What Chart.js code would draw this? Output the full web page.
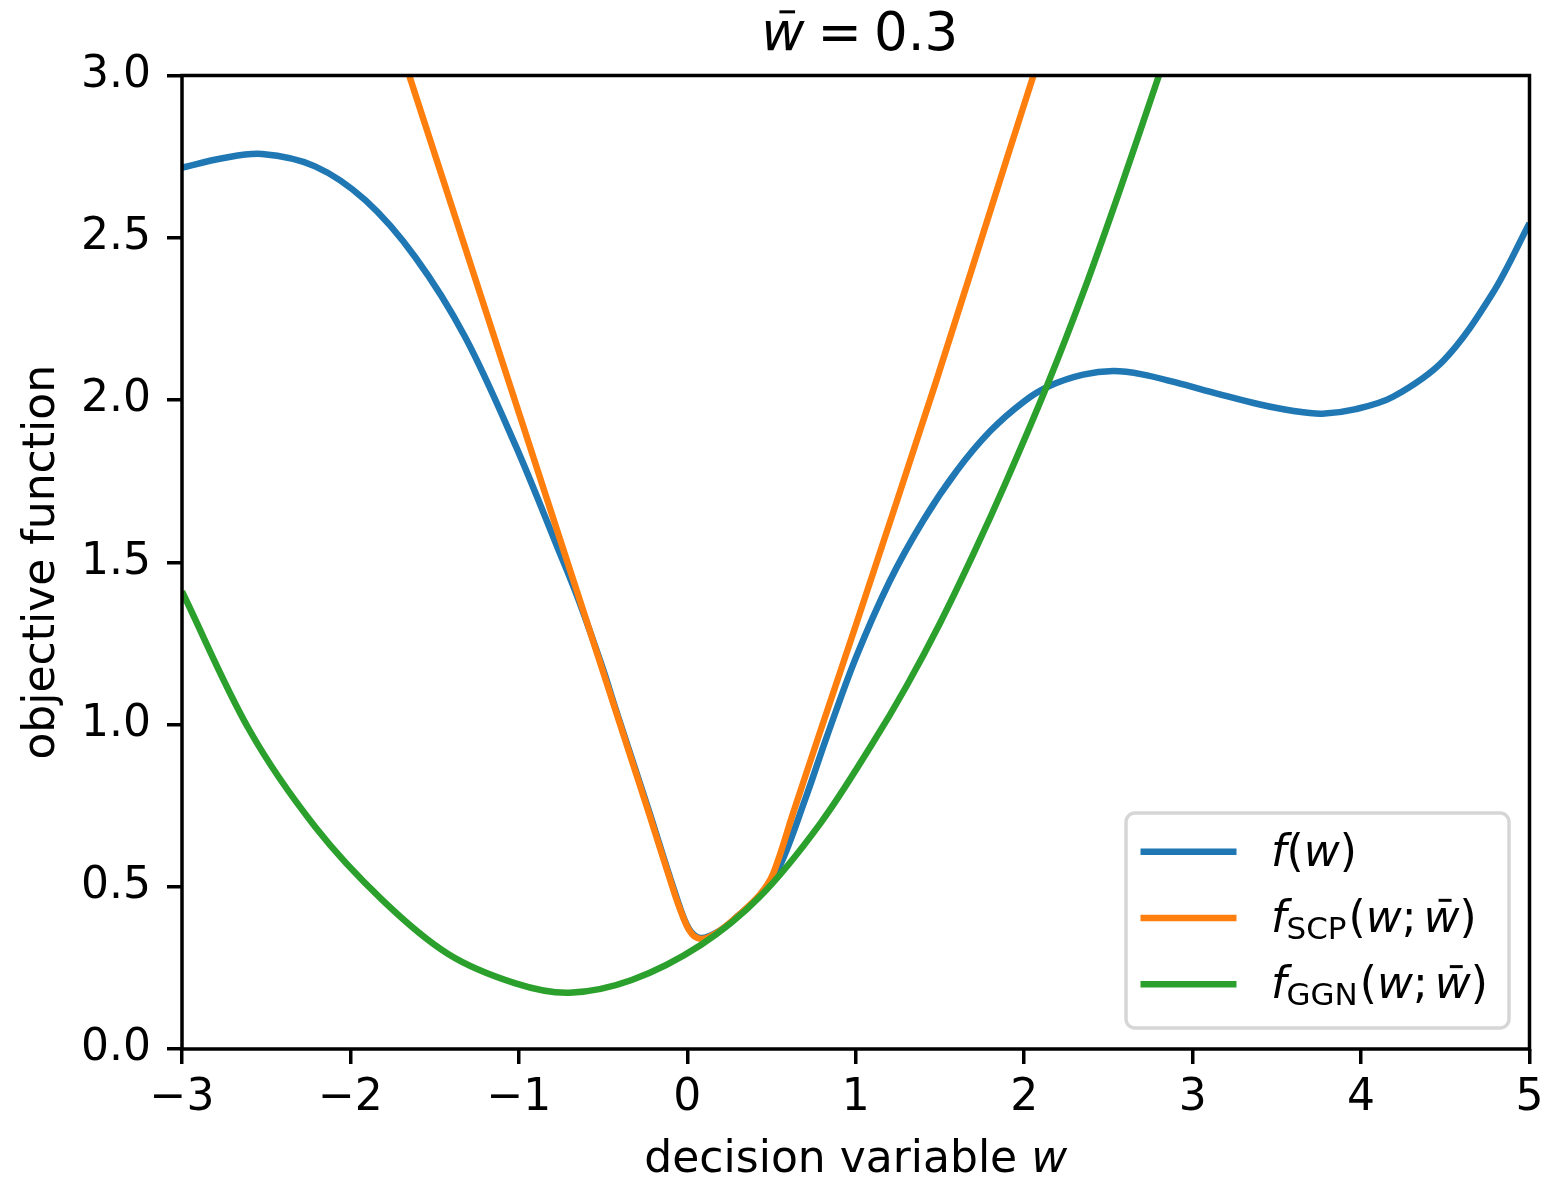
<!DOCTYPE html>
<html>
<head>
<meta charset="utf-8">
<script src="https://cdn.jsdelivr.net/npm/chart.js@4/dist/chart.umd.min.js"></script>
<style>
  html, body { margin: 0; padding: 0; background: #fff; }
  #wrap { width: 1546px; height: 1181px; position: relative; }
</style>
</head>
<body>
<div id="wrap"><canvas id="chart"></canvas></div>
<script>
// f(w)
var wF = [-3.0, -2.76, -2.525, -2.21, -1.91, -1.615, -1.32, -1.02, -0.77, -0.65, -0.5, -0.43, -0.23, -0.07, 0.01, 0.08,
          0.2, 0.3, 0.43, 0.55, 0.7, 0.83, 1.0, 1.2, 1.4, 1.6, 1.8, 2.0, 2.15, 2.35, 2.53, 2.7, 2.9, 3.15, 3.4, 3.6, 3.77,
          3.97, 4.19, 4.49, 4.78, 5.0];
var fVals = [2.716, 2.745, 2.758, 2.72, 2.615, 2.44, 2.195, 1.86, 1.545, 1.39, 1.17, 1.055, 0.737, 0.477, 0.37, 0.342,
             0.367, 0.41, 0.472, 0.565, 0.77, 0.965, 1.205, 1.44, 1.628, 1.782, 1.905, 1.996, 2.043, 2.078, 2.089, 2.079,
             2.054, 2.019, 1.986, 1.966, 1.958, 1.972, 2.01, 2.122, 2.328, 2.545];

// f_SCP(w; w_bar)
var wSCP = [-1.651, -1.546, -1.2, -0.735, -0.43, -0.23, -0.07, -0.02, 0.01, 0.04, 0.084, 0.13, 0.2, 0.3, 0.43, 0.51,
            0.63, 0.79, 1.0, 1.48, 1.91, 2.055];
var scpVals = [3.0, 2.832, 2.28, 1.538, 1.05, 0.73, 0.47, 0.4, 0.367, 0.348, 0.339, 0.345, 0.367, 0.41, 0.475, 0.541,
               0.73, 0.98, 1.305, 2.062, 2.765, 3.0];

// f_GGN(w; w_bar)
var wGGN = [-3.0, -2.6, -2.21, -1.81, -1.42, -1.02, -0.7, -0.33, 0.08, 0.43, 0.79, 1.1, 1.3, 1.5, 1.7, 1.89, 2.14, 2.35,
            2.57, 2.8];
var ggnVals = [1.41, 0.983, 0.685, 0.459, 0.293, 0.2025, 0.1735, 0.2126, 0.3205, 0.469, 0.6955, 0.942, 1.117, 1.312,
               1.527, 1.745, 2.05, 2.33, 2.65, 3.0];

var xTicks = [-3, -2, -1, 0, 1, 2, 3, 4, 5];
var yTicks = [0, 0.5, 1.0, 1.5, 2.0, 2.5, 3.0];

var FONT = '"DejaVu Sans", "Liberation Sans", sans-serif';
var BLUE = '#1f77b4', ORANGE = '#ff7f0e', GREEN = '#2ca02c';

function pts(xs, ys) {
  return xs.map(function (x, i) { return { x: x, y: ys[i] }; });
}

// 文字列をフォント違いのパーツで並べて描く
function runsWidth(ctx, runs) {
  var w = 0;
  runs.forEach(function (r) {
    ctx.font = r.font;
    w += (r.gap || 0) + ctx.measureText(r.t).width;
  });
  return w;
}
function drawRuns(ctx, runs, x, y) {
  runs.forEach(function (r) {
    x += r.gap || 0;
    ctx.font = r.font;
    ctx.fillText(r.t, x, y + (r.dy || 0));
    var w = ctx.measureText(r.t).width;
    if (r.bar) {
      ctx.fillRect(x + w * 0.42, y - r.size * 0.72 - 1.5, w * 0.36, 3);
    }
    x += w;
  });
  return x;
}

function it(size) { return 'italic ' + size + 'px ' + FONT; }
function rm(size) { return size + 'px ' + FONT; }

function mathLabel(sub) {
  var r = [{ t: 'f', font: it(44) }];
  if (sub) r.push({ t: sub, font: rm(31), dy: 7 });
  r.push({ t: '(', font: rm(44), gap: sub ? 2 : 0 });
  r.push({ t: 'w', font: it(44) });
  if (sub) {
    r.push({ t: ';', font: rm(44) });
    r.push({ t: 'w', font: it(44), gap: 7, bar: true, size: 44 });
  }
  r.push({ t: ')', font: rm(44) });
  return r;
}

var legendItems = [
  { color: BLUE, runs: mathLabel(null) },
  { color: ORANGE, runs: mathLabel('SCP') },
  { color: GREEN, runs: mathLabel('GGN') }
];

var decor = {
  id: 'decor',
  afterDatasetsDraw: function (chart) {
    var ctx = chart.ctx, a = chart.chartArea;
    ctx.save();
    // 枠線
    ctx.strokeStyle = '#000';
    ctx.lineWidth = 3.5;
    ctx.strokeRect(a.left, a.top, a.right - a.left, a.bottom - a.top);

    // 凡例
    var bw = 383, bh = 215;
    var bx = a.right - 20.5 - bw, by = a.bottom - 21 - bh;
    ctx.beginPath();
    ctx.roundRect(bx, by, bw, bh, 9);
    ctx.fillStyle = 'rgba(255,255,255,0.8)';
    ctx.fill();
    ctx.strokeStyle = '#d6d6d6';
    ctx.lineWidth = 3.5;
    ctx.stroke();

    legendItems.forEach(function (item, i) {
      var ly = by + 38.7 + i * 66.3;
      ctx.strokeStyle = item.color;
      ctx.lineWidth = 6.5;
      ctx.beginPath();
      ctx.moveTo(bx + 14.5, ly);
      ctx.lineTo(bx + 110.5, ly);
      ctx.stroke();
      ctx.fillStyle = '#000';
      ctx.textBaseline = 'alphabetic';
      ctx.textAlign = 'left';
      drawRuns(ctx, item.runs, bx + 145, ly + 14);
    });
    ctx.restore();
  },
  afterDraw: function (chart) {
    var ctx = chart.ctx, a = chart.chartArea;
    var cx = (a.left + a.right) / 2;
    ctx.save();
    ctx.fillStyle = '#000';
    ctx.textBaseline = 'alphabetic';
    ctx.textAlign = 'left';

    // タイトル
    var title = [
      { t: 'w', font: it(53), bar: true, size: 53 },
      { t: '=', font: rm(53), gap: 13 },
      { t: '0.3', font: rm(53), gap: 12 }
    ];
    drawRuns(ctx, title, cx + 4 - runsWidth(ctx, title) / 2, 50);

    // x軸ラベル
    var xl = [
      { t: 'decision variable ', font: rm(44) },
      { t: 'w', font: it(44) }
    ];
    drawRuns(ctx, xl, cx - runsWidth(ctx, xl) / 2, 1172);

    // y軸ラベル
    ctx.translate(54, (a.top + a.bottom) / 2);
    ctx.rotate(-Math.PI / 2);
    ctx.textAlign = 'center';
    ctx.font = rm(44);
    ctx.fillText('objective function', 0, 0);
    ctx.restore();
  }
};

var ctx = document.getElementById('chart').getContext('2d');
var chart = new Chart(ctx, {
  type: 'line',
  data: {
    datasets: [
      { label: 'f(w)', data: pts(wF, fVals), borderColor: BLUE, order: 3 },
      { label: 'f_SCP', data: pts(wSCP, scpVals), borderColor: ORANGE, order: 2, tension: 0.3 },
      { label: 'f_GGN', data: pts(wGGN, ggnVals), borderColor: GREEN, order: 1 }
    ]
  },
  options: {
    responsive: true,
    maintainAspectRatio: false,
    animation: false,
    devicePixelRatio: 1,
    layout: { padding: { top: 75.5, right: 16.5, left: 0, bottom: 0 } },
    elements: {
      point: { radius: 0, hoverRadius: 0 },
      line: { borderWidth: 6.5, tension: 0.34, fill: false, borderCapStyle: 'butt', borderJoinStyle: 'round' }
    },
    plugins: {
      legend: { display: false },
      title: { display: false },
      tooltip: { enabled: false }
    },
    scales: {
      x: {
        type: 'linear',
        min: -3,
        max: 5,
        afterBuildTicks: function (scale) {
          scale.ticks = xTicks.map(function (v) { return { value: v }; });
        },
        afterFit: function (scale) {
          scale.height = 132;
          scale.paddingLeft = 0;
          scale.paddingRight = 0;
        },
        border: { display: false },
        grid: { drawOnChartArea: false, drawTicks: true, tickLength: 15, tickWidth: 3.5, tickColor: '#000', lineWidth: 3.5, color: '#000' },
        ticks: {
          color: '#000',
          font: { family: FONT, size: 44 },
          padding: 8,
          maxRotation: 0,
          autoSkip: false,
          callback: function (v) { return v < 0 ? '\u2212' + (-v) : String(v); }
        }
      },
      y: {
        type: 'linear',
        min: 0,
        max: 3,
        afterBuildTicks: function (scale) {
          scale.ticks = yTicks.map(function (v) { return { value: v }; });
        },
        afterFit: function (scale) {
          scale.width = 182;
          scale.paddingTop = 0;
          scale.paddingBottom = 0;
        },
        border: { display: false },
        grid: { drawOnChartArea: false, drawTicks: true, tickLength: 15, tickWidth: 3.5, tickColor: '#000', lineWidth: 3.5, color: '#000' },
        ticks: {
          color: '#000',
          font: { family: FONT, size: 44 },
          padding: 16,
          autoSkip: false,
          callback: function (v) { return Number(v).toFixed(1); }
        }
      }
    }
  },
  plugins: [decor]
});
</script>
</body>
</html>
